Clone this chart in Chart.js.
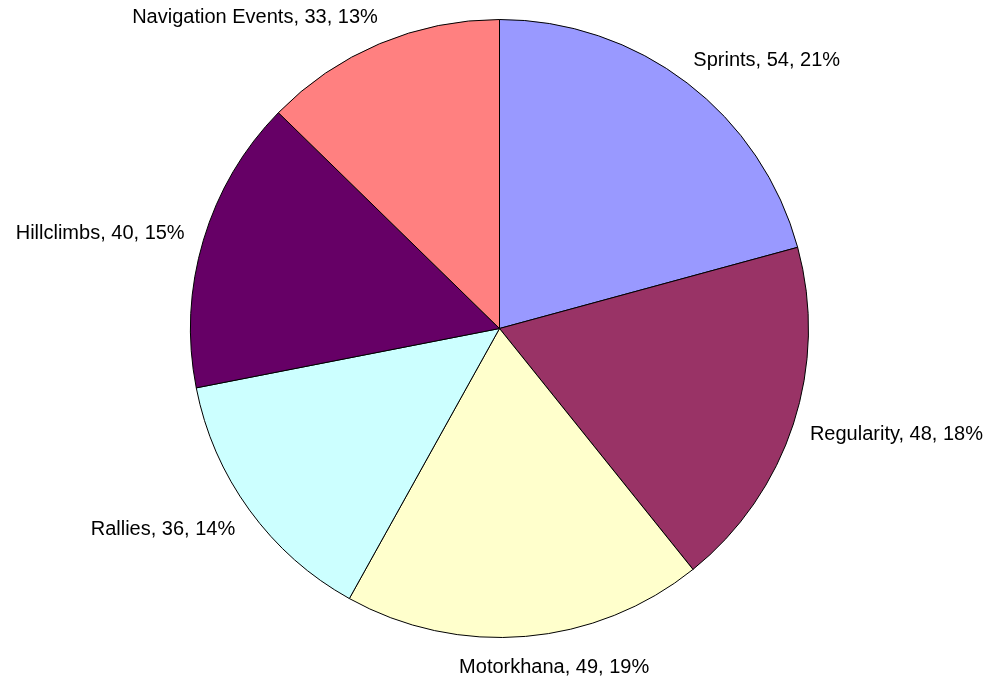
<!DOCTYPE html>
<html>
<head>
<meta charset="utf-8">
<title>Events</title>
<script src="https://cdn.jsdelivr.net/npm/chart.js@4/dist/chart.umd.min.js"></script>
<style>
  html, body { margin: 0; padding: 0; background: #fff; }
  #wrap { width: 994px; height: 678px; }
</style>
</head>
<body>
<div id="wrap"><canvas id="chartEvents" width="994" height="678"></canvas></div>
<script>
const eventLabels = ['Sprints', 'Regularity', 'Motorkhana', 'Rallies', 'Hillclimbs', 'Navigation Events'];
const eventCounts = [54, 48, 49, 36, 40, 33];
const sliceColors = ['#9999FF', '#993366', '#FFFFCC', '#CCFFFF', '#660066', '#FF8080'];

const labelFont = '20px "Liberation Sans", Arial, sans-serif';

// labels outside each slice: "name, value, percent"
const outsideLabels = {
  id: 'outsideLabels',
  afterDatasetsDraw(chart) {
    const ctx = chart.ctx;
    const meta = chart.getDatasetMeta(0);
    const values = chart.data.datasets[0].data;
    const total = values.reduce((a, b) => a + b, 0);

    ctx.save();
    ctx.font = labelFont;
    ctx.fillStyle = '#000';
    ctx.textBaseline = 'alphabetic';

    meta.data.forEach((arc, i) => {
      const p = arc.getProps(['x', 'y', 'startAngle', 'endAngle', 'outerRadius'], true);
      const mid = (p.startAngle + p.endAngle) / 2;
      const r = p.outerRadius + 30;
      const ax = p.x + Math.cos(mid) * r;
      const ay = p.y + Math.sin(mid) * r;
      const pct = Math.round(values[i] / total * 100);
      const text = chart.data.labels[i] + ', ' + values[i] + ', ' + pct + '%';
      const w = ctx.measureText(text).width;
      const s = Math.cos(mid);

      let x;
      if (s > 0.2) {
        ctx.textAlign = 'left';
        x = ax - 12;
      } else if (s < -0.2) {
        ctx.textAlign = 'right';
        x = ax + 10;
      } else {
        ctx.textAlign = 'center';
        x = ax + s * w / 2 + 18;
      }
      ctx.fillText(text, x, ay + 7);
    });
    ctx.restore();
  }
};

new Chart(document.getElementById('chartEvents'), {
  type: 'pie',
  data: {
    labels: eventLabels,
    datasets: [
      {
        data: eventCounts,
        backgroundColor: sliceColors,
        borderColor: '#000',
        borderWidth: 1
      }
    ]
  },
  options: {
    responsive: false,
    animation: false,
    layout: {
      padding: { top: 19, left: 190, right: 185, bottom: 40 }
    },
    plugins: {
      legend: { display: false },
      tooltip: { enabled: false }
    }
  },
  plugins: [outsideLabels]
});
</script>
</body>
</html>
